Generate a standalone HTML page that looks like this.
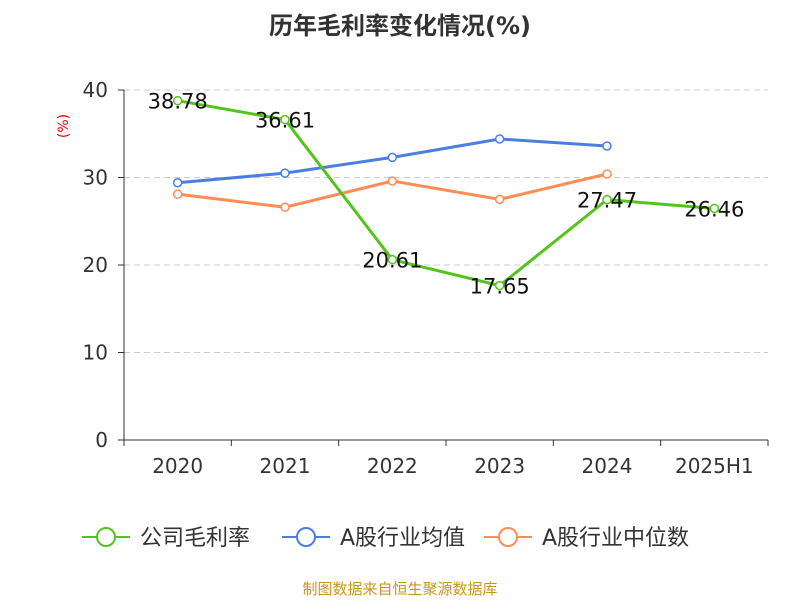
<!DOCTYPE html>
<html><head><meta charset="utf-8"><style>
body{margin:0;background:#fff;font-family:"DejaVu Sans","Noto Sans CJK SC",sans-serif}
</style></head><body>
<svg id="chart" width="800" height="600" xmlns="http://www.w3.org/2000/svg" font-family="DejaVu Sans, Noto Sans CJK SC, sans-serif">
<text x="400" y="34" text-anchor="middle" font-size="24" font-weight="bold" fill="#333">历年毛利率变化情况(%)</text>
<text x="68" y="126" text-anchor="middle" font-size="14" fill="#e00" transform="rotate(-90 68 126)">(%)</text>
<g id="grid"></g><g id="axes"></g><g id="series"></g>
<g>
<g><line x1="82" y1="537" x2="130" y2="537" stroke="#52c41a" stroke-width="2"/><circle cx="106" cy="537" r="9" fill="#fff" stroke="#52c41a" stroke-width="2"/><text x="140" y="545" font-size="22" fill="#333">公司毛利率</text></g>
<g><line x1="282" y1="537" x2="330" y2="537" stroke="#4a7fe0" stroke-width="2"/><circle cx="306" cy="537" r="9" fill="#fff" stroke="#4a7fe0" stroke-width="2"/><text x="340" y="545" font-size="22" fill="#333">A股行业均值</text></g>
<g><line x1="484" y1="537" x2="532" y2="537" stroke="#ff8c55" stroke-width="2"/><circle cx="508" cy="537" r="9" fill="#fff" stroke="#ff8c55" stroke-width="2"/><text x="542" y="545" font-size="22" fill="#333">A股行业中位数</text></g>
</g>
<text x="400" y="594" text-anchor="middle" font-size="15" fill="#c8961e">制图数据来自恒生聚源数据库</text>
</svg>
<script>
const categories=["2020","2021","2022","2023","2024","2025H1"];
const companyValues=[38.78,36.61,20.61,17.65,27.47,26.46];
const industryAvg=[29.4,30.5,32.3,34.4,33.6];
const industryMedian=[28.1,26.6,29.6,27.5,30.4];
const yTicks=[0,10,20,30,40];
const NS="http://www.w3.org/2000/svg";
const L=124,R=768,T=90,B=440,yMax=40;
const bw=(R-L)/categories.length;
const x=i=>L+bw*(i+0.5);
const y=v=>B-(v/yMax)*(B-T);
function mk(tag,attrs,parent,text){const e=document.createElementNS(NS,tag);for(const k in attrs)e.setAttribute(k,attrs[k]);if(text!==undefined)e.textContent=text;parent.appendChild(e);return e;}
const grid=document.getElementById('grid'),axes=document.getElementById('axes'),ser=document.getElementById('series');
yTicks.forEach(t=>{
 if(t>0){const g=mk('line',{x1:L,x2:R,y1:y(t),y2:y(t),stroke:'#ccc','stroke-dasharray':'6,4'},grid);
 
 }
 const tk=mk('line',{x1:L-6,x2:L,y1:y(t),y2:y(t),stroke:'#333'},axes);
 
 
 const lb=mk('text',{x:L-16,y:y(t)+7,'text-anchor':'end','font-size':20,fill:'#333'},axes,String(t));
 
 
});
const ya=mk('line',{x1:L,x2:L,y1:T,y2:B,stroke:'#333'},axes);


const xa=mk('line',{x1:L,x2:R,y1:B,y2:B,stroke:'#333'},axes);


for(let i=0;i<=categories.length;i++){const tk=mk('line',{x1:L+bw*i,x2:L+bw*i,y1:B,y2:B+6,stroke:'#333'},axes);
 
 }
categories.forEach((c,i)=>{const t=mk('text',{x:x(i),y:B+33,'text-anchor':'middle','font-size':20,fill:'#333'},axes,c);
 
 });
function line(vals,color,name,labels){
 const g=mk('g',{},ser);
 
 
 const p=mk('polyline',{points:vals.map((v,i)=>x(i)+','+y(v)).join(' '),fill:'none',stroke:color,'stroke-width':3},g);
 
 
 vals.forEach((v,i)=>{const c=mk('circle',{cx:x(i),cy:y(v),r:4,fill:'#fff',stroke:color,'stroke-width':1.5},g);
  
  
  if(labels){const t=mk('text',{x:x(i),y:y(v)+8,'text-anchor':'middle','font-size':21,fill:'#111'},g,v.toFixed(2));
   
   }
 });
}
line(industryAvg,'#4a7fe0','industry-avg',false);
line(industryMedian,'#ff8c55','industry-median',false);
line(companyValues,'#52c41a','company',true);
</script>
</body></html>
